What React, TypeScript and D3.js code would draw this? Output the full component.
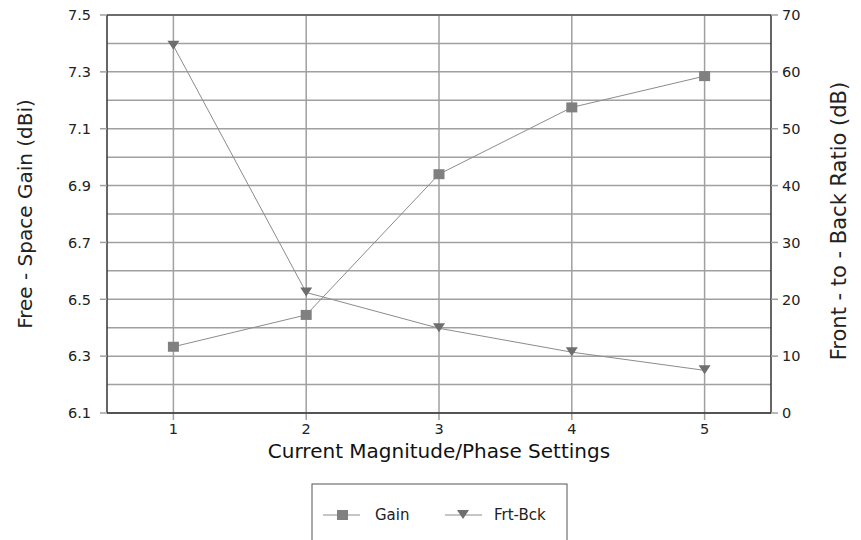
import React from "react";
import * as d3 from "d3";

const categories = [1, 2, 3, 4, 5];
const gainValues = [6.333, 6.445, 6.94, 7.175, 7.285];
const frtBckValues = [64.6, 21.2, 14.9, 10.7, 7.5];
const leftTicks = [6.1, 6.3, 6.5, 6.7, 6.9, 7.1, 7.3, 7.5];
const rightTicks = [0, 10, 20, 30, 40, 50, 60, 70];
const seriesNames = ["Gain", "Frt-Bck"];

const W = 861, H = 540;
const L = 107, R = 771, T = 15, B = 413;
const FONT = "'DejaVu Sans', Verdana, sans-serif";

export default function App() {
  const x = d3.scaleLinear().domain([0.5, 5.5]).range([L, R]);
  const yL = d3.scaleLinear().domain([6.1, 7.5]).range([B, T]);
  const yR = d3.scaleLinear().domain([0, 70]).range([B, T]);
  const gridVals = d3.range(0, 15).map((i) => 6.1 + i * 0.1);

  const gainLine = d3.line<number>().x((_, i) => x(categories[i])).y((d) => yL(d));
  const fbLine = d3.line<number>().x((_, i) => x(categories[i])).y((d) => yR(d));

  const tri = (cx: number, cy: number) =>
    `M${cx - 6},${cy - 5}L${cx + 6},${cy - 5}L${cx},${cy + 4}Z`;

  return (
    <svg width={W} height={H} style={{ position: "absolute", left: 0, top: 0, background: "#fff" }} fontFamily={FONT}>
      <rect x={0} y={0} width={W} height={H} fill="#fff" />
      {gridVals.map((v, i) => (
        <line key={"h" + i} x1={L} x2={R} y1={yL(v)} y2={yL(v)} stroke="#a0a0a0" strokeWidth={1.5} />
      ))}
      {categories.map((c) => (
        <line key={"v" + c} x1={x(c)} x2={x(c)} y1={T} y2={B + 7} stroke="#a0a0a0" strokeWidth={1.5} />
      ))}
      <line x1={L} x2={R} y1={T} y2={T} stroke="#555" strokeWidth={1.5} />
      <line x1={L} x2={R} y1={B} y2={B} stroke="#333" strokeWidth={1.5} />
      <line x1={L} x2={L} y1={T} y2={B} stroke="#333" strokeWidth={1.5} />
      <line x1={R} x2={R} y1={T} y2={B} stroke="#333" strokeWidth={1.5} />
      {leftTicks.map((v) => (
        <g key={"lt" + v}>
          <line x1={L - 7} x2={L} y1={yL(v)} y2={yL(v)} stroke="#a0a0a0" strokeWidth={1.5} />
          <text x={L - 16} y={yL(v)} dy="0.36em" textAnchor="end" fontSize={14.5} fill="#222">
            {v.toFixed(1)}
          </text>
        </g>
      ))}
      {rightTicks.map((v) => (
        <g key={"rt" + v}>
          <line x1={R} x2={R + 7} y1={yR(v)} y2={yR(v)} stroke="#a0a0a0" strokeWidth={1.5} />
          <text x={R + 11} y={yR(v)} dy="0.36em" textAnchor="start" fontSize={14.5} fill="#222">
            {v}
          </text>
        </g>
      ))}
      {categories.map((c) => (
        <text key={"xt" + c} x={x(c)} y={B + 21} textAnchor="middle" fontSize={14.5} fill="#222">
          {c}
        </text>
      ))}
      <path d={gainLine(gainValues) || ""} fill="none" stroke="#8c8c8c" strokeWidth={1} />
      <path d={fbLine(frtBckValues) || ""} fill="none" stroke="#8c8c8c" strokeWidth={1} />
      {gainValues.map((v, i) => (
        <rect key={"gm" + i} x={x(categories[i]) - 5.5} y={yL(v) - 5} width={11} height={10} fill="#808080" />
      ))}
      {frtBckValues.map((v, i) => (
        <path key={"fm" + i} d={tri(x(categories[i]), yR(v))} fill="#6e6e6e" />
      ))}
      <text x={439} y={458} textAnchor="middle" fontSize={20} fill="#111">
        Current Magnitude/Phase Settings
      </text>
      <text transform={`translate(32,${(T + B) / 2}) rotate(-90)`} textAnchor="middle" fontSize={20} fill="#222">
        Free - Space Gain (dBi)
      </text>
      <text transform={`translate(846,221) rotate(-90)`} textAnchor="middle" fontSize={21} fill="#222">
        Front - to - Back Ratio (dB)
      </text>
      <rect x={312} y={484} width={255} height={70} fill="#fff" stroke="#555" strokeWidth={1} />
      <line x1={323} x2={360} y1={515} y2={515} stroke="#8c8c8c" strokeWidth={1} />
      <rect x={337} y={510} width={11} height={10} fill="#808080" />
      <text x={375} y={515} dy="0.36em" fontSize={15} fill="#222">{seriesNames[0]}</text>
      <line x1={445} x2={482} y1={515} y2={515} stroke="#8c8c8c" strokeWidth={1} />
      <path d={tri(463, 515)} fill="#6e6e6e" />
      <text x={494} y={515} dy="0.36em" fontSize={15} fill="#222">{seriesNames[1]}</text>
    </svg>
  );
}
